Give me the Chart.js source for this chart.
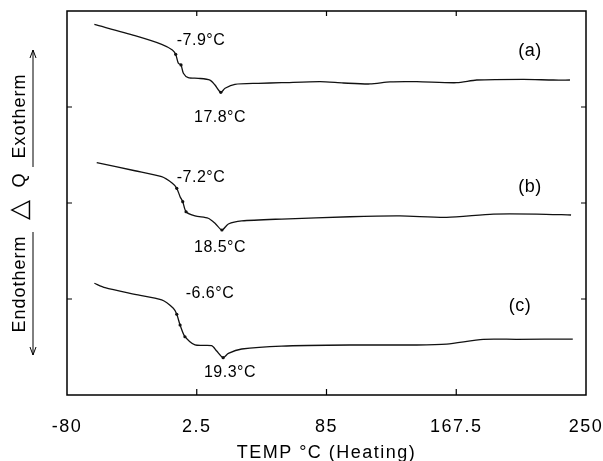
<!DOCTYPE html>
<html>
<head>
<meta charset="utf-8">
<script src="https://cdn.jsdelivr.net/npm/chart.js@4.4.1/dist/chart.umd.min.js"></script>
<style>
  html, body { margin: 0; padding: 0; background: #fff; }
  #wrap { width: 603px; height: 461px; }
</style>
</head>
<body>
<div id="wrap"><canvas id="dsc"></canvas></div>
<script>
// DSC heating traces (heat flow in arbitrary offset units)
var tempA = [-62.6, -36.8, -19.8, -13.0, -10.9, -9.2, -7.5, -6.0, -2.9, 3.5, 10.9, 14.1, 17.8, 20.5, 26.8, 41.6, 56.5, 80.9, 95.7, 112.7, 125.4, 142.4, 167.8, 180.5, 210.1, 229.2, 239.8];
var heatA = [3.861, 3.743, 3.653, 3.594, 3.549, 3.455, 3.438, 3.351, 3.305, 3.299, 3.281, 3.229, 3.153, 3.195, 3.236, 3.247, 3.253, 3.264, 3.250, 3.240, 3.262, 3.264, 3.253, 3.281, 3.288, 3.281, 3.281];
var markA = [-10.9, -7.5, 17.8];

var tempB = [-61.1, -36.8, -19.8, -13.0, -10.2, -8.1, -6.4, -4.3, 1.4, 9.8, 14.1, 18.5, 22.6, 31.1, 56.5, 99.9, 131.7, 161.4, 191.1, 218.7, 240.5];
var heatB = [2.420, 2.336, 2.274, 2.205, 2.153, 2.066, 2.014, 1.909, 1.865, 1.841, 1.789, 1.719, 1.781, 1.813, 1.833, 1.857, 1.865, 1.851, 1.885, 1.885, 1.875];
var markB = [-10.2, -6.4, -4.3, 18.5];

var tempC = [-62.6, -55.8, -36.8, -19.8, -12.4, -10.2, -8.1, -5.0, 1.4, 12.0, 15.2, 19.3, 22.6, 31.1, 56.5, 99.9, 142.4, 161.4, 184.7, 205.9, 241.6];
var heatC = [1.164, 1.118, 1.049, 0.990, 0.903, 0.841, 0.729, 0.607, 0.521, 0.514, 0.458, 0.389, 0.434, 0.479, 0.510, 0.521, 0.521, 0.531, 0.580, 0.580, 0.583];
var markC = [-10.2, -8.1, -5.0, 19.3];

var xTicks = [-80, 2.5, 85, 167.5, 250];
var yTicks = [1, 2, 3];

// annotations: text and where they sit in data units
var noteText = ["-7.9°C", "17.8°C", "(a)", "-7.2°C", "18.5°C", "(b)", "-6.6°C", "19.3°C", "(c)"];
var noteTemp = [5.2, 17.3, 214.4, 5.2, 17.3, 214.4, 10.9, 23.6, 208];
var noteHeat = [3.69, 2.885, 3.583, 2.26, 1.531, 2.167, 1.052, 0.229, 0.927];

var FONT = '"Liberation Sans", Arial, sans-serif';

function trace(temps, heats, marks) {
  return {
    data: temps.map(function (t, i) { return { x: t, y: heats[i] }; }),
    borderColor: '#111',
    backgroundColor: '#111',
    borderWidth: 1.3,
    tension: 0.25,
    fill: false,
    pointRadius: function (c) { return marks.indexOf(temps[c.dataIndex]) >= 0 ? 1.6 : 0; },
    pointBorderWidth: 0
  };
}

// spaced-out lettering like the scanned figure
var spacingPlugin = {
  id: 'spacing',
  beforeDraw: function (chart) { chart.ctx.letterSpacing = '1.5px'; },
  afterDraw: function (chart) { chart.ctx.letterSpacing = '0px'; }
};

var framePlugin = {
  id: 'frame',
  afterDatasetsDraw: function (chart) {
    var ctx = chart.ctx, a = chart.chartArea, sx = chart.scales.x, sy = chart.scales.y;
    ctx.save();
    ctx.strokeStyle = '#000';
    ctx.lineWidth = 1.5;
    ctx.strokeRect(a.left, a.top, a.right - a.left, a.bottom - a.top);
    ctx.lineWidth = 1.2;
    ctx.beginPath();
    xTicks.slice(1, -1).forEach(function (v) {
      var px = sx.getPixelForValue(v);
      ctx.moveTo(px, a.bottom); ctx.lineTo(px, a.bottom - 6);
      ctx.moveTo(px, a.top); ctx.lineTo(px, a.top + 5);
    });
    yTicks.forEach(function (v) {
      var py = sy.getPixelForValue(v);
      ctx.moveTo(a.left, py); ctx.lineTo(a.left + 5, py);
      ctx.moveTo(a.right, py); ctx.lineTo(a.right - 5, py);
    });
    ctx.stroke();

    ctx.fillStyle = '#000';
    ctx.textAlign = 'center';
    ctx.textBaseline = 'middle';
    ctx.letterSpacing = '0.5px';
    noteText.forEach(function (t, i) {
      ctx.font = (t.charAt(0) === '(' ? '18px ' : '16px ') + FONT;
      ctx.fillText(t, sx.getPixelForValue(noteTemp[i]), sy.getPixelForValue(noteHeat[i]));
    });
    ctx.restore();
  }
};

var yTitlePlugin = {
  id: 'ytitle',
  afterDraw: function (chart) {
    var ctx = chart.ctx, a = chart.chartArea;
    var mid = (a.top + a.bottom) / 2;
    ctx.save();
    ctx.fillStyle = '#000';
    ctx.translate(20, mid);
    ctx.rotate(-Math.PI / 2);
    ctx.textAlign = 'center';
    ctx.textBaseline = 'middle';
    ctx.letterSpacing = '1px';
    ctx.font = '18px ' + FONT;
    ctx.fillText('Endotherm', -81, 0);
    ctx.fillText('Q', 23, 0);
    ctx.fillText('Exotherm', 87, 0);
    ctx.letterSpacing = '0px';
    ctx.font = '26px "DejaVu Sans", sans-serif';
    ctx.fillText('△', -7, 0);
    ctx.restore();

    ctx.save();
    ctx.strokeStyle = '#000';
    ctx.lineWidth = 1;
    ctx.beginPath();
    ctx.moveTo(33, mid - 36); ctx.lineTo(33, mid - 153);
    ctx.moveTo(30, mid - 145); ctx.lineTo(33, mid - 153); ctx.lineTo(36, mid - 145);
    ctx.moveTo(33, mid + 29); ctx.lineTo(33, mid + 152);
    ctx.moveTo(30, mid + 144); ctx.lineTo(33, mid + 152); ctx.lineTo(36, mid + 144);
    ctx.stroke();
    ctx.restore();
  }
};

new Chart(document.getElementById('dsc'), {
  type: 'line',
  data: {
    datasets: [trace(tempA, heatA, markA), trace(tempB, heatB, markB), trace(tempC, heatC, markC)]
  },
  options: {
    responsive: true,
    maintainAspectRatio: false,
    animation: false,
    layout: { padding: { top: 11, right: 17 } },
    plugins: { legend: { display: false }, tooltip: { enabled: false } },
    scales: {
      x: {
        type: 'linear',
        min: -80,
        max: 250,
        grid: { display: false, drawTicks: false },
        border: { display: false },
        afterBuildTicks: function (s) { s.ticks = xTicks.map(function (v) { return { value: v }; }); },
        afterFit: function (s) { s.height = 66; s.paddingLeft = 0; s.paddingRight = 0; },
        ticks: {
          color: '#000',
          font: { family: FONT, size: 18 },
          padding: 21,
          maxRotation: 0,
          autoSkip: false,
          callback: function (v) { return String(v); }
        },
        title: {
          display: true,
          text: 'TEMP °C (Heating)',
          color: '#000',
          font: { family: FONT, size: 18 },
          padding: { top: 0, bottom: -3 }
        }
      },
      y: {
        min: 0,
        max: 4,
        grid: { display: false, drawTicks: false },
        border: { display: false },
        ticks: { display: false },
        afterFit: function (s) { s.width = 67; }
      }
    }
  },
  plugins: [spacingPlugin, framePlugin, yTitlePlugin]
});
</script>
</body>
</html>
